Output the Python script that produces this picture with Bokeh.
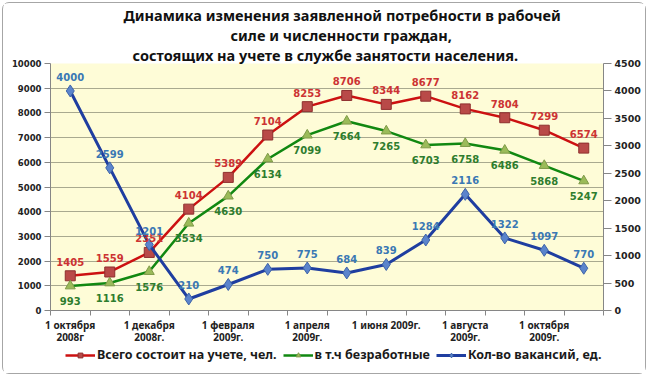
from bokeh.plotting import figure
from bokeh.layouts import column
from bokeh.models import (Range1d, LinearAxis, FixedTicker, ColumnDataSource,
                          LabelSet, Legend, LegendItem, Title)
from bokeh.embed import file_html
from bokeh.resources import INLINE
from bokeh.core.properties import value

# ---- data ----
months = ["окт 2008", "ноя 2008", "дек 2008", "янв 2009", "фев 2009", "мар 2009",
          "апр 2009", "май 2009", "июн 2009", "июл 2009", "авг 2009", "сен 2009",
          "окт 2009", "ноя 2009"]
total = [1405, 1559, 2351, 4104, 5389, 7104, 8253, 8706, 8344, 8677, 8162, 7804, 7299, 6574]
unemployed = [993, 1116, 1576, 3534, 4630, 6134, 7099, 7664, 7265, 6703, 6758, 6486, 5868, 5247]
vacancies = [4000, 2599, 1201, 210, 474, 750, 775, 684, 839, 1284, 2116, 1322, 1097, 770]
x_tick_labels = ["1 октября\n2008г", "1 декабря\n2008г.", "1 февраля\n2009г.",
                 "1 апреля\n2009г.", "1 июня 2009г.", "1 августа\n2009г.",
                 "1 октября\n2009г."]
series_names = ["Всего состоит на учете, чел.", "в т.ч безработные", "Кол-во вакансий, ед."]
title_lines = ["Динамика изменения заявленной потребности в рабочей",
               "силе и численности граждан,",
               "состоящих на учете в службе занятости населения."]

x = list(range(len(months)))
src = ColumnDataSource(dict(
    x=x, total=total, unemployed=unemployed, vacancies=vacancies,
    total_s=[str(v) for v in total], unemp_s=[str(v) for v in unemployed],
    vac_s=[str(v) for v in vacancies]))

p = figure(width=642, height=344, x_range=Range1d(-0.5, 13.5), y_range=Range1d(0, 10000),
           output_backend="svg", toolbar_location=None,
           min_border_left=47, min_border_right=42, min_border_top=59, min_border_bottom=35,
           background_fill_color="#fefcd7", border_fill_color="white",
           outline_line_color=None)

p.extra_y_ranges = {"vac": Range1d(0, 4500)}

AX = "#868686"
# left axis
ly = p.left[0]
ly.ticker = FixedTicker(ticks=list(range(0, 10001, 1000)))
ly.axis_line_color = AX
ly.major_tick_line_color = AX
ly.major_tick_out = 6
ly.major_tick_in = 0
ly.minor_tick_line_color = None
ly.major_label_standoff = 3
ly.major_label_text_font = "DejaVu Sans"
ly.major_label_text_font_style = "bold"
ly.major_label_text_font_size = "8.5px"
ly.major_label_text_color = "#222222"

ry = LinearAxis(y_range_name="vac", ticker=FixedTicker(ticks=list(range(0, 4501, 500))))
ry.axis_line_color = AX
ry.major_tick_line_color = AX
ry.major_tick_out = 8
ry.major_tick_in = 0
ry.minor_tick_line_color = None
ry.major_label_standoff = 3
ry.major_label_text_font = "DejaVu Sans"
ry.major_label_text_font_style = "bold"
ry.major_label_text_font_size = "9.5px"
ry.major_label_text_color = "#222222"
p.add_layout(ry, "right")

# bottom axis: labels on every second month, ticks between categories
label_pos = x[::2]
xa = p.below[0]
xa.ticker = FixedTicker(ticks=label_pos, minor_ticks=[i - 0.5 for i in range(len(months) + 1)])
xa.major_label_overrides = {pos: lab for pos, lab in zip(label_pos, x_tick_labels)}
xa.axis_line_color = AX
xa.major_tick_line_color = None
xa.major_tick_out = 0
xa.major_tick_in = 0
xa.minor_tick_line_color = AX
xa.minor_tick_out = 5
xa.minor_tick_in = 0
xa.major_label_standoff = 2
xa.major_label_text_font = "Noto Sans"
xa.major_label_text_font_style = "bold"
xa.major_label_text_font_size = "10px"
xa.major_label_text_line_height = 0.9
xa.major_label_text_color = "#222222"

p.xgrid.grid_line_color = None
p.ygrid.ticker = FixedTicker(ticks=list(range(1000, 10001, 1000)))
p.ygrid.grid_line_color = "#a9a98f"
p.ygrid.grid_line_width = 1

# series
line_cols = ["#cc1111", "#118811", "#1f3ea0"]
mark_fill = ["#b94a48", "#9bbb59", "#5b84cc"]
mark_line = ["#8e2f2e", "#7f9a48", "#3d63a8"]
markers = ["square", "triangle", "diamond"]
msize = [10, 10, 12]
lw = [2.5, 2.5, 3]

p.line("x", "total", source=src, line_color=line_cols[0], line_width=lw[0])
p.scatter("x", "total", source=src, marker=markers[0], size=msize[0],
          fill_color=mark_fill[0], line_color=mark_line[0])
p.line("x", "unemployed", source=src, line_color=line_cols[1], line_width=lw[1])
p.scatter("x", "unemployed", source=src, marker=markers[1], size=msize[1],
          fill_color=mark_fill[1], line_color=mark_line[1])
p.line("x", "vacancies", source=src, y_range_name="vac", line_color=line_cols[2], line_width=lw[2])
p.scatter("x", "vacancies", source=src, y_range_name="vac", marker=markers[2], size=msize[2],
          fill_color=mark_fill[2], line_color=mark_line[2])

lab_font = value("DejaVu Sans")
p.add_layout(LabelSet(x="x", y="total", text="total_s", source=src, y_offset=14,
                      text_align="center", text_baseline="middle", text_font=lab_font,
                      text_font_style="bold", text_font_size="10px", text_color="#cc3333"))
p.add_layout(LabelSet(x="x", y="unemployed", text="unemp_s", source=src, y_offset=-15,
                      text_align="center", text_baseline="middle", text_font=lab_font,
                      text_font_style="bold", text_font_size="10px", text_color="#2e7d2e"))
p.add_layout(LabelSet(x="x", y="vacancies", text="vac_s", source=src, y_offset=14,
                      y_range_name="vac",
                      text_align="center", text_baseline="middle", text_font=lab_font,
                      text_font_style="bold", text_font_size="10px", text_color="#3a78b4"))

# title: three lines (outermost = p.title, then added ones from frame outward)
title_offsets = [73, 180, 82]
TFS = "14.5px"
TSO = -2
p.title.text = title_lines[0]
p.title.align = "left"
p.title.offset = title_offsets[0]
p.title.standoff = TSO
p.title.text_font = "Noto Sans"
p.title.text_font_style = "bold"
p.title.text_font_size = TFS
p.title.text_color = "#111111"
for t, off in [(title_lines[2], title_offsets[2]), (title_lines[1], title_offsets[1])]:
    p.add_layout(Title(text=t, align="left", offset=off, standoff=TSO,
                       text_font="Noto Sans", text_font_style="bold",
                       text_font_size=TFS, text_color="#111111"), "above")

# legend strip (separate small figure below the chart; frame aligned with the chart)
q = figure(width=642, height=26, x_range=Range1d(0, 1), y_range=Range1d(0, 1),
           x_axis_location=None, y_axis_location=None, min_border=0,
           output_backend="svg", toolbar_location=None, outline_line_color=None,
           background_fill_color="white", border_fill_color="white")
q.grid.visible = False
nan = float("nan")
items = []
for i, name in enumerate(series_names):
    rl = q.line(x=[nan, nan], y=[nan, nan], line_color=line_cols[i], line_width=lw[i])
    rs = q.scatter(x=[nan], y=[nan], marker=markers[i], size=msize[i] - 2,
                   fill_color=mark_fill[i], line_color=mark_line[i])
    items.append(LegendItem(label=name, renderers=[rl, rs]))
legend = Legend(items=items, orientation="horizontal", location=(15, 10),
                padding=0, margin=0, spacing=6, label_standoff=2,
                glyph_width=30, glyph_height=12, label_height=17,
                border_line_color=None, background_fill_alpha=0,
                label_text_font="Noto Sans", label_text_font_style="bold",
                label_text_font_size="12.5px", label_text_color="#1a1a1a")
q.add_layout(legend, "center")

lay = column(p, q, spacing=0)
lay.styles = {"border": "1px solid #a6a6a6", "border-radius": "7px",
              "margin-left": "2px", "margin-top": "2px"}

open("out.html", "w").write(file_html(lay, INLINE))
